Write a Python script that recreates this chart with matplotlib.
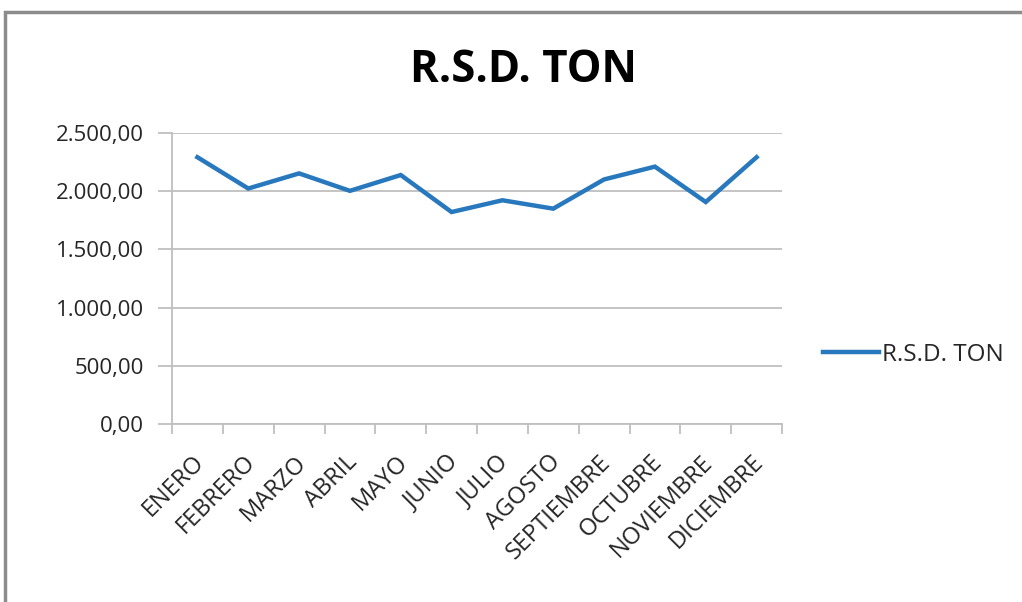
import matplotlib
matplotlib.use("Agg")
import matplotlib.pyplot as plt
from matplotlib.ticker import FuncFormatter, FixedLocator
from matplotlib.patches import Rectangle
from matplotlib.transforms import ScaledTranslation

months = ["ENERO", "FEBRERO", "MARZO", "ABRIL", "MAYO", "JUNIO", "JULIO",
          "AGOSTO", "SEPTIEMBRE", "OCTUBRE", "NOVIEMBRE", "DICIEMBRE"]
values = [2292, 2023, 2153, 2003, 2139, 1821, 1922, 1850, 2101, 2211, 1907, 2292]
yticks = [0, 500, 1000, 1500, 2000, 2500]
series_name = "R.S.D. TON"
title = "R.S.D. TON"

plt.rcParams['font.family'] = ['Open Sans', 'DejaVu Sans']

fig = plt.figure(figsize=(10.22, 6.02), dpi=100)
ax = fig.add_axes([172/1022, 1-424/602, 610/1022, 291/602])

x = list(range(len(months)))
line, = ax.plot(x, values, color='#2878BE', lw=3.2, solid_joinstyle='miter', label=series_name)

ax.set_xlim(-0.5, len(months)-0.5)
ax.set_ylim(0, 2500)
ax.set_yticks(yticks)
ax.yaxis.set_major_formatter(FuncFormatter(
    lambda v, p: f"{v:,.2f}".replace(",", "X").replace(".", ",").replace("X", ".")))
ax.grid(axis='y', color='#BFBFBF', lw=1.3)
ax.set_axisbelow(True)

ax.set_xticks(x)
ax.set_xticklabels(months, rotation=45, ha='right', va='top', rotation_mode='anchor',
                   fontsize=17, color='#262626')
ax.xaxis.set_minor_locator(FixedLocator([i - 0.5 for i in range(len(months)+1)]))
ax.tick_params(axis='x', which='major', length=0, pad=19)
ax.tick_params(axis='x', which='minor', length=7, width=1.3, color='#BFBFBF')
ax.tick_params(axis='y', length=10, width=1.3, color='#BFBFBF', labelsize=16,
               labelcolor='#262626', pad=10)
shift = ScaledTranslation(-5/100, 0, fig.dpi_scale_trans)
for lab in ax.get_xticklabels():
    lab.set_transform(lab.get_transform() + shift)

for s in ['top', 'right']:
    ax.spines[s].set_visible(False)
for s in ['left', 'bottom']:
    ax.spines[s].set_color('#BFBFBF')
    ax.spines[s].set_linewidth(1.3)

fig.text(523/1022, 1-70/602, title, ha='center', va='center', fontsize=31.5,
         fontweight='bold', color='black')

leg = fig.legend(handles=[line], loc='center left', bbox_to_anchor=(801/1022, 1-355/602),
                 frameon=False, fontsize=17.5, handlelength=2.3, handletextpad=0.15,
                 labelcolor='#262626')

fig.patches.append(Rectangle((5/1022, -0.05), 1.1, 1-12/602+0.05, transform=fig.transFigure,
                             fill=False, edgecolor='#8C8C8C', lw=2.5, figure=fig))

fig.savefig("out.png", dpi=100, facecolor='white')
